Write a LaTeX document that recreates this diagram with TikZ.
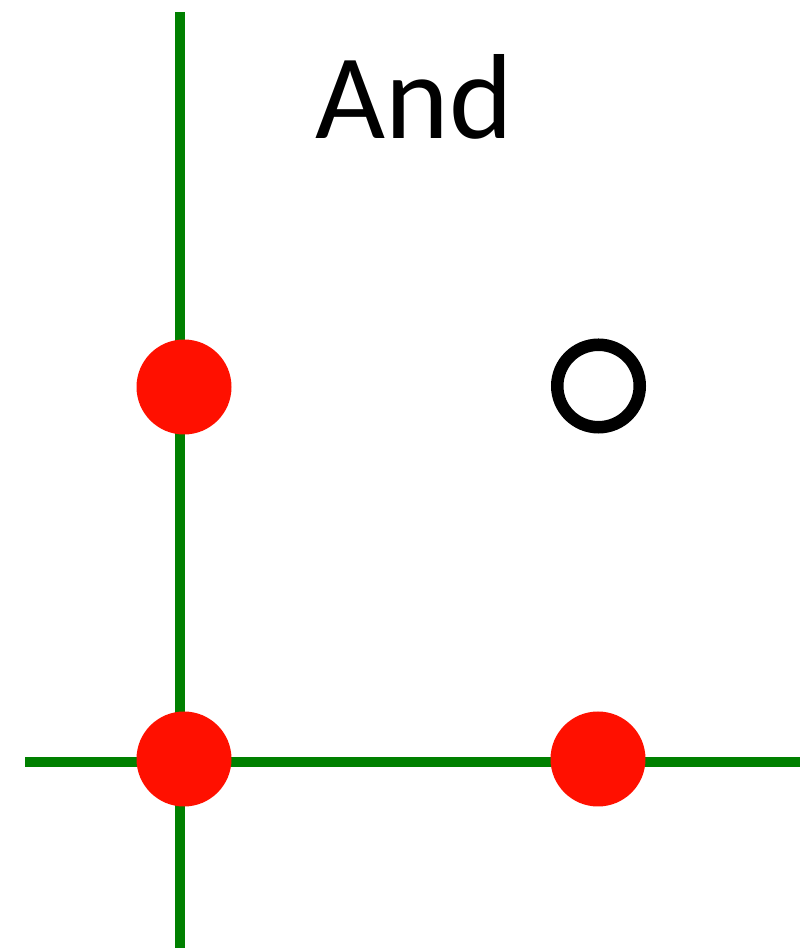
\documentclass[tikz,border=0pt]{standalone}
\usepackage{fontspec}
\setmainfont{Carlito}
\definecolor{dotred}{RGB}{255,16,0}
\definecolor{axisgreen}{RGB}{0,128,0}
\begin{document}
\begin{tikzpicture}[x=1pt,y=1pt,
  axis/.style={draw=axisgreen,line width=10pt},
  reddot/.style={circle,fill=dotred,draw=none,minimum size=95pt,inner sep=0pt},
  opendot/.style={circle,draw=black,line width=12.5pt,minimum size=82.5pt,inner sep=0pt}]
\useasboundingbox (0,0) rectangle (800,951);
\coordinate (vtop) at (180,939);
\coordinate (vbot) at (180,3);
\coordinate (hl) at (25,189);
\coordinate (hr) at (800,189);
\draw[axis] (vtop) -- (vbot);
\draw[axis] (hl) -- (hr);
\node[reddot] (p01) at (184,564) {};
\node[reddot] (p00) at (184,192) {};
\node[reddot] (p10) at (598,192) {};
\node[opendot] (p11) at (598.5,565) {};
\node[anchor=base,inner sep=0pt,font=\fontsize{121}{130}\selectfont] (title) at (414.5,812) {And};
\end{tikzpicture}
\end{document}
